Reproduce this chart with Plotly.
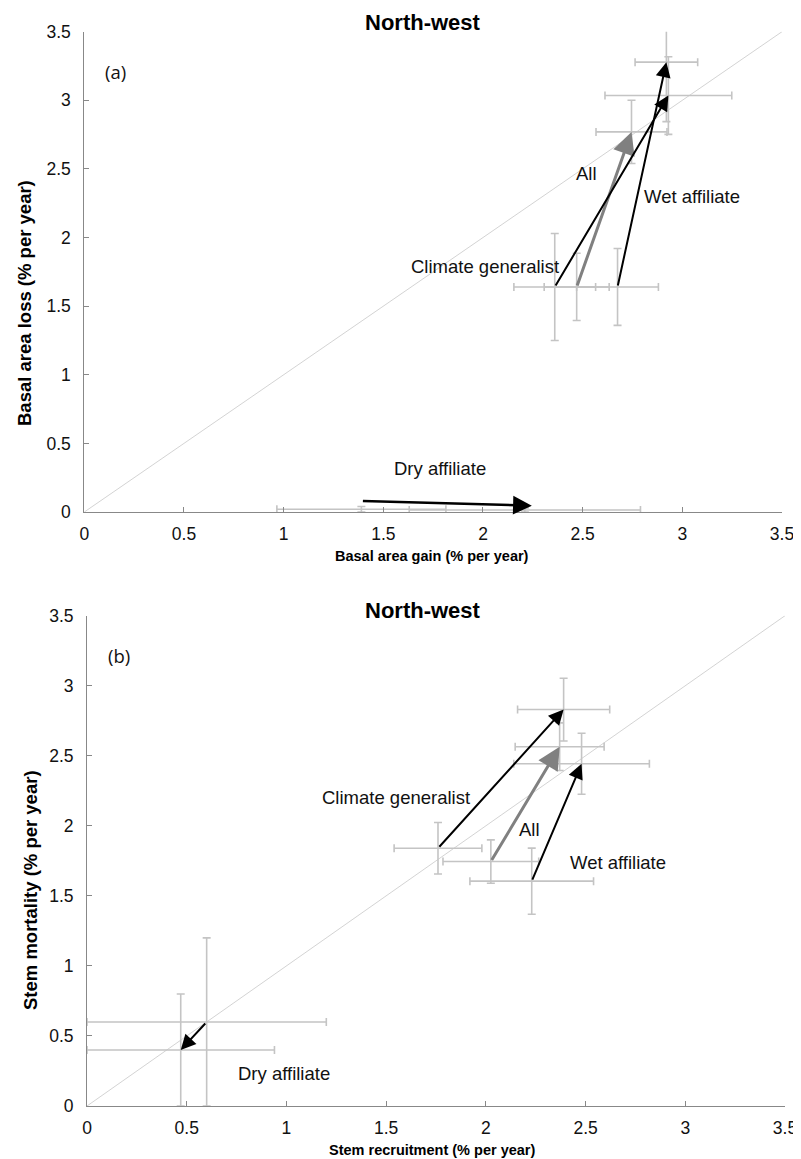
import plotly.graph_objects as go

# ---------------- data ----------------
groups = ["All", "Climate generalist", "Wet affiliate", "Dry affiliate"]
arrow_colors = ["#808080", "#000000", "#000000", "#000000"]
arrow_widths = [3, 2, 2, 2.5]

# Panel (a): basal area gain (x) vs basal area loss (y)
a_gain_start = [2.47, 2.36, 2.675, 1.39]
a_loss_start = [1.64, 1.64, 1.64, 0.02]
a_gain_end = [2.745, 2.93, 2.92, 2.21]
a_loss_end = [2.77, 3.035, 3.278, 0.015]
a_gain_start_err = [0.163, 0.205, 0.205, 0.424]
a_loss_start_err = [0.245, 0.39, 0.28, 0.02]
a_gain_end_err = [0.178, 0.318, 0.157, 0.58]
a_loss_end_err = [0.23, 0.283, 0.433, 0.015]
# arrows as drawn in panel (a)
a_arrow_x0 = [2.47, 2.36, 2.675, 1.39]
a_arrow_y0 = [1.64, 1.64, 1.64, 0.08]
a_arrow_x1 = [2.745, 2.93, 2.92, 2.245]
a_arrow_y1 = [2.77, 3.035, 3.278, 0.046]
a_label_x = [2.52, 2.01, 3.05, 1.785]
a_label_y = [2.47, 1.79, 2.30, 0.32]

# Panel (b): stem recruitment (x) vs stem mortality (y)
b_rec_start = [2.025, 1.76, 2.23, 0.6]
b_mort_start = [1.745, 1.84, 1.605, 0.6]
b_rec_end = [2.37, 2.39, 2.48, 0.47]
b_mort_end = [2.565, 2.83, 2.443, 0.4]
b_rec_start_err = [0.24, 0.22, 0.31, 0.6]
b_mort_start_err = [0.155, 0.184, 0.236, 0.6]
b_rec_end_err = [0.223, 0.231, 0.34, 0.47]
b_mort_end_err = [0.17, 0.224, 0.218, 0.4]
b_label_x = [2.22, 1.55, 2.665, 0.99]
b_label_y = [1.975, 2.20, 1.737, 0.233]

diag = [0, 3.5]
panel_titles = ["North-west", "North-west"]
panel_tags = ["(a)", "(b)"]
x_titles = ["Basal area gain (% per year)", "Stem recruitment (% per year)"]
y_titles = ["Basal area loss (% per year)", "Stem mortality (% per year)"]

# ---------------- figure ----------------
W, H = 801, 1159
OFF = 8  # page body margin in the viewer
FONT = "Liberation Sans, Arial, sans-serif"
ERR_COLOR = "#c4c4c4"


def fx(p):
    return (p - OFF) / W


def fy(p):
    return 1 - (p - OFF) / H


fig = go.Figure()


def err_trace(xv, yv, xe, ye, xa, ya):
    return go.Scatter(
        x=xv, y=yv, xaxis=xa, yaxis=ya, mode="markers",
        marker=dict(size=2, color="rgba(0,0,0,0)"),
        error_x=dict(type="data", array=xe, color=ERR_COLOR, thickness=1.6, width=4),
        error_y=dict(type="data", array=ye, color=ERR_COLOR, thickness=1.6, width=4),
        hoverinfo="skip", showlegend=False,
    )


# diagonals
for xa, ya in [("x", "y"), ("x2", "y2")]:
    fig.add_trace(go.Scatter(x=diag, y=diag, xaxis=xa, yaxis=ya, mode="lines",
                             line=dict(color="#c8c8c8", width=0.8),
                             hoverinfo="skip", showlegend=False))

# error bars
fig.add_trace(err_trace(a_gain_start, a_loss_start, a_gain_start_err, a_loss_start_err, "x", "y"))
fig.add_trace(err_trace(a_gain_end, a_loss_end, a_gain_end_err, a_loss_end_err, "x", "y"))
fig.add_trace(err_trace(b_rec_start, b_mort_start, b_rec_start_err, b_mort_start_err, "x2", "y2"))
fig.add_trace(err_trace(b_rec_end, b_mort_end, b_rec_end_err, b_mort_end_err, "x2", "y2"))

LABEL_FONT = dict(family=FONT, size=18.5, color="#111")
annotations = []
# arrows panel (a)
for i in range(len(groups)):
    annotations.append(dict(
        xref="x", yref="y", axref="x", ayref="y",
        x=a_arrow_x1[i], y=a_arrow_y1[i], ax=a_arrow_x0[i], ay=a_arrow_y0[i],
        showarrow=True, arrowhead=2, arrowsize=1.5, arrowwidth=arrow_widths[i],
        arrowcolor=arrow_colors[i], standoff=0, startstandoff=0, text=""))
    annotations.append(dict(
        xref="x", yref="y", x=a_label_x[i], y=a_label_y[i], text=groups[i],
        showarrow=False, font=LABEL_FONT))
# arrows panel (b)
for i in range(len(groups)):
    annotations.append(dict(
        xref="x2", yref="y2", axref="x2", ayref="y2",
        x=b_rec_end[i], y=b_mort_end[i], ax=b_rec_start[i], ay=b_mort_start[i],
        showarrow=True, arrowhead=2, arrowsize=1.5, arrowwidth=arrow_widths[i] if i != 3 else 2,
        arrowcolor=arrow_colors[i], standoff=0, startstandoff=0, text=""))
    annotations.append(dict(
        xref="x2", yref="y2", x=b_label_x[i], y=b_label_y[i], text=groups[i],
        showarrow=False, font=LABEL_FONT))

# panel geometry in (screen) pixels
panels = [
    dict(x0=84.3, x1=782.0, y0=31.7, y1=512.0, ytx=24, yty=303, tty=22),
    dict(x0=87.0, x1=785.0, y0=615.7, y1=1106.0, ytx=31, yty=890, tty=610),
]

axis_common = dict(
    range=[0, 3.5], dtick=0.5, tick0=0, ticks="inside", ticklen=5, tickcolor="#888",
    showline=True, linecolor="#888", linewidth=1, showgrid=False, zeroline=False,
    tickfont=dict(family=FONT, size=17.5, color="#111"), automargin=False,
)

layout_axes = {}
for k, p in enumerate(panels):
    sfx = "" if k == 0 else "2"
    layout_axes["xaxis" + sfx] = dict(
        axis_common, domain=[fx(p["x0"]), fx(p["x1"])],
        anchor="y" + sfx, ticklabelstandoff=6)
    layout_axes["yaxis" + sfx] = dict(
        axis_common, domain=[fy(p["y1"]), fy(p["y0"])],
        anchor="x" + sfx, ticklabelstandoff=9)
    # title
    annotations.append(dict(xref="paper", yref="paper", x=fx(423), y=fy(p["tty"]),
                            text="<b>%s</b>" % panel_titles[k], showarrow=False,
                            font=dict(family=FONT, size=22, color="#000"),
                            xanchor="center", yanchor="middle"))
    # tag
    annotations.append(dict(xref="paper", yref="paper", x=fx(p["x0"] + 19),
                            y=fy(p["y0"] + 40), text=panel_tags[k], showarrow=False,
                            font=dict(family="Open Sans, sans-serif", size=18.5, color="#111"),
                            xanchor="left", yanchor="middle"))
    # x title
    annotations.append(dict(xref="paper", yref="paper", x=fx(432), y=fy(p["y1"] + 44),
                            text="<b>%s</b>" % x_titles[k], showarrow=False,
                            font=dict(family=FONT, size=14.5, color="#000"),
                            xanchor="center", yanchor="middle"))
    # y title
    annotations.append(dict(xref="paper", yref="paper", x=fx(p["ytx"]), y=fy(p["yty"]),
                            text="<b>%s</b>" % y_titles[k], showarrow=False, textangle=-90,
                            font=dict(family=FONT, size=18.5, color="#000"),
                            xanchor="center", yanchor="middle"))

fig.update_layout(
    width=W, height=H, margin=dict(l=0, r=0, t=0, b=0, pad=0, autoexpand=False),
    paper_bgcolor="white", plot_bgcolor="white", showlegend=False,
    annotations=annotations, **layout_axes,
)

fig.write_html("out.html")
